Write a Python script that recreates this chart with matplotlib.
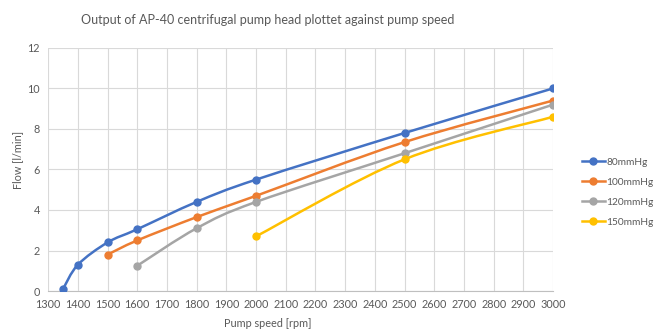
import numpy as np
import matplotlib
matplotlib.use('Agg')
import matplotlib.pyplot as plt
from matplotlib.path import Path
from matplotlib.patches import PathPatch
from matplotlib.lines import Line2D

plt.rcParams['font.family'] = ['Lato', 'DejaVu Sans']

# pump speed [rpm] and flow [l/min] per pressure head
speed_80 = [1350, 1400, 1500, 1600, 1800, 2000, 2500, 3000]
flow_80 = [0.1, 1.3, 2.4, 3.05, 4.4, 5.5, 7.8, 10.0]
speed_100 = [1500, 1600, 1800, 2000, 2500, 3000]
flow_100 = [1.8, 2.5, 3.65, 4.7, 7.35, 9.4]
speed_120 = [1600, 1800, 2000, 2500, 3000]
flow_120 = [1.25, 3.1, 4.4, 6.8, 9.2]
speed_150 = [2000, 2500, 3000]
flow_150 = [2.7, 6.5, 8.6]

labels = ['80mmHg', '100mmHg', '120mmHg', '150mmHg']
colors = ['#4472C4', '#ED7D31', '#A5A5A5', '#FFC000']
series = [(speed_80, flow_80), (speed_100, flow_100),
          (speed_120, flow_120), (speed_150, flow_150)]


def smooth_path(x, y):
    # cubic bezier segments through the points (catmull-rom style tangents)
    x = np.asarray(x, float)
    y = np.asarray(y, float)
    n = len(x)
    verts = [(x[0], y[0])]
    codes = [Path.MOVETO]
    for i in range(n - 1):
        x0, y0 = (x[i - 1], y[i - 1]) if i > 0 else (x[i], y[i])
        x3, y3 = (x[i + 2], y[i + 2]) if i + 2 < n else (x[i + 1], y[i + 1])
        c1 = (x[i] + (x[i + 1] - x0) / 6, y[i] + (y[i + 1] - y0) / 6)
        c2 = (x[i + 1] - (x3 - x[i]) / 6, y[i + 1] - (y3 - y[i]) / 6)
        verts += [c1, c2, (x[i + 1], y[i + 1])]
        codes += [Path.CURVE4] * 3
    return Path(verts, codes)


fig = plt.figure(figsize=(6.6, 3.3), dpi=100)
ax = fig.add_axes([0.073, 0.118, 0.765, 0.737])

handles = []
for (sx, fy), lab, col in zip(series, labels, colors):
    ax.add_patch(PathPatch(smooth_path(sx, fy), facecolor='none', edgecolor=col,
                           lw=1.8, zorder=3, capstyle='round'))
    ax.plot(sx, fy, 'o', color=col, ms=5, zorder=4)
    handles.append(Line2D([], [], color=col, lw=1.8, marker='o', ms=5))

ax.set_xlim(1300, 3000)
ax.set_ylim(0, 12)
ax.set_xticks(range(1300, 3001, 100))
ax.set_yticks(range(0, 13, 2))
ax.grid(True, color='#d9d9d9', lw=0.8)
ax.set_axisbelow(True)
for s in ['top', 'right', 'left']:
    ax.spines[s].set_visible(False)
ax.spines['bottom'].set_color('#bfbfbf')
ax.tick_params(length=0, labelsize=7.8, labelcolor='#595959', pad=6)

fig.text(0.406, 0.938, 'Output of AP-40 centrifugal pump head plottet against pump speed',
         ha='center', va='center', fontsize=9.0, color='#595959')
fig.text(0.405, 0.004, 'Pump speed [rpm]', ha='center', va='bottom', fontsize=7.8, color='#595959')
fig.text(0.026, 0.515, 'Flow [l/min]', ha='center', va='center', rotation=90,
         fontsize=7.8, color='#595959')

fig.legend(handles, labels, loc='upper left', bbox_to_anchor=(0.876, 0.535),
           frameon=False, fontsize=7.3, labelcolor='#595959', handlelength=2.2,
           handletextpad=0.15, labelspacing=1.08, borderaxespad=0)

fig.savefig('out.png', dpi=100)
